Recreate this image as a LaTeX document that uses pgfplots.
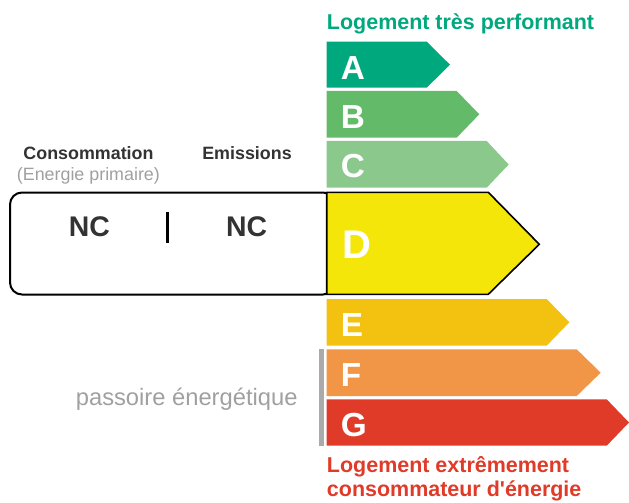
\documentclass[border=0pt]{standalone}
\usepackage{pgfplots}
\pgfplotsset{compat=1.18}
\usepackage{fontspec}
\setmainfont{Liberation Sans}
\definecolor{cA}{RGB}{0,168,126}
\definecolor{cB}{RGB}{99,187,106}
\definecolor{cC}{RGB}{138,200,140}
\definecolor{cD}{RGB}{245,230,10}
\definecolor{cE}{RGB}{243,193,16}
\definecolor{cF}{RGB}{240,150,70}
\definecolor{cG}{RGB}{224,58,40}
\definecolor{tgreen}{RGB}{0,168,126}
\definecolor{tred}{RGB}{224,58,40}
\definecolor{dgray}{RGB}{51,51,51}
\definecolor{lgray}{RGB}{160,160,160}
\definecolor{bgray}{RGB}{170,170,170}
\begin{document}
\begin{tikzpicture}
\begin{axis}[x=0.75pt, y=0.75pt, y dir=reverse,
  xmin=0, xmax=629, ymin=0, ymax=503,
  axis lines=none, ticks=none, clip=false]
% invisible frame
\addplot[draw=none, forget plot] coordinates {(0,0) (629,503)};
% left box
\addplot[draw=black, line width=1.5pt, fill=white, rounded corners=9pt, forget plot]
  coordinates {(10,192.5) (335,192.5) (335,294.5) (10,294.5)} -- cycle;
% divider
\addplot[draw=black, line width=2.4pt, forget plot] coordinates {(167.3,211.7) (167.3,242.7)};
% grey bar
\addplot[draw=bgray, line width=3.8pt, forget plot] coordinates {(321.5,349.3) (321.5,445.7)};
% bars
\addplot[fill=cA, draw=none] coordinates {(326.7,41.7) (426.7,41.7) (450,64.7) (426.7,87.7) (326.7,87.7)} -- cycle;
\addplot[fill=cB, draw=none] coordinates {(326.7,91) (456.7,91) (479.3,114.3) (456.7,137.7) (326.7,137.7)} -- cycle;
\addplot[fill=cC, draw=none] coordinates {(326.7,141) (486.7,141) (508.7,164.5) (486.7,187.7) (326.7,187.7)} -- cycle;
\addplot[fill=cD, draw=black, line width=1.2pt] coordinates {(326.7,192.3) (488.3,192.3) (539.3,244.3) (488.3,294.3) (326.7,294.3)} -- cycle;
\addplot[fill=cE, draw=none] coordinates {(326.7,299) (546.7,299) (569.3,322.3) (546.7,345.7) (326.7,345.7)} -- cycle;
\addplot[fill=cF, draw=none] coordinates {(326.7,349.3) (576.7,349.3) (600.7,372.7) (576.7,396) (326.7,396)} -- cycle;
\addplot[fill=cG, draw=none] coordinates {(326.7,399.3) (606.7,399.3) (629,422.5) (606.7,445.7) (326.7,445.7)} -- cycle;
% letters
\begin{scope}[every node/.style={anchor=base west, inner sep=0pt, text=white, font=\fontsize{25}{25}\selectfont\bfseries}]
\node at (axis cs:340.5,79.3) {A};
\node at (axis cs:340.5,128.3) {B};
\node at (axis cs:340.5,177.8) {C};
\node[font=\fontsize{30}{30}\selectfont\bfseries] at (axis cs:342.5,258.3) {D};
\node at (axis cs:340.5,336) {E};
\node at (axis cs:340.5,386.7) {F};
\node at (axis cs:340.5,436.3) {G};
\end{scope}
% titles
\node[anchor=base west, inner sep=0pt, text=tgreen, font=\fontsize{16.1}{19}\selectfont\bfseries] at (axis cs:326.7,30) {Logement très performant};
\node[anchor=base west, inner sep=0pt, text=tred, font=\fontsize{16.1}{19}\selectfont\bfseries] at (axis cs:326.7,472.7) {Logement extrêmement};
\node[anchor=base west, inner sep=0pt, text=tred, font=\fontsize{16.1}{19}\selectfont\bfseries] at (axis cs:326.7,496.5) {consommateur d\textquotesingle énergie};
% left texts
\node[anchor=base, inner sep=0pt, text=dgray, font=\fontsize{13.4}{16}\selectfont\bfseries] at (axis cs:88.5,159.3) {Consommation};
\node[anchor=base, inner sep=0pt, text=lgray, font=\fontsize{13.4}{16}\selectfont] at (axis cs:88.4,180.5) {(Energie primaire)};
\node[anchor=base, inner sep=0pt, text=dgray, font=\fontsize{13.4}{16}\selectfont\bfseries] at (axis cs:247,159.3) {Emissions};
\node[anchor=base, inner sep=0pt, text=dgray, font=\fontsize{21.3}{24}\selectfont\bfseries] at (axis cs:89.5,236) {NC};
\node[anchor=base, inner sep=0pt, text=dgray, font=\fontsize{21.3}{24}\selectfont\bfseries] at (axis cs:246.7,236) {NC};
\node[anchor=base, inner sep=0pt, text=lgray, font=\fontsize{17.8}{20}\selectfont] at (axis cs:186.7,405) {passoire énergétique};
\end{axis}
\end{tikzpicture}
\end{document}
